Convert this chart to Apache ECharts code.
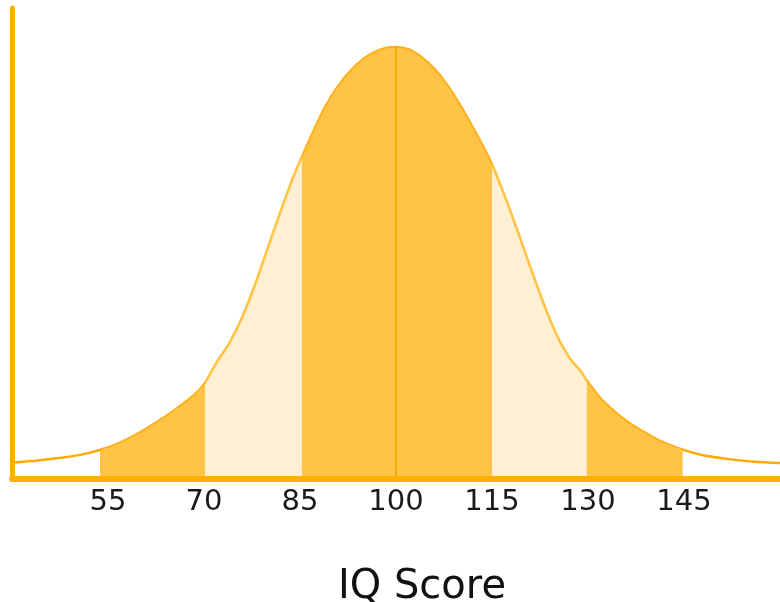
<!DOCTYPE html>
<html>
<head>
<meta charset="utf-8">
<script src="https://cdn.jsdelivr.net/npm/echarts@6/dist/echarts.min.js"></script>
<style>html,body{margin:0;padding:0;background:#fff;overflow:hidden}#c{width:780px;height:602px}</style>
</head>
<body>
<div id="c"></div>
<script>
// IQ score (x) and relative frequency in % of peak (y)
const iqScores = [40,44,48,51,53.75,57,60,63,66,68.5,70.2,72,74,76,78,80,82,84,85.3,87,89,91,93,95,97,98.6,100,102,104,106,108,110,112,114,115,117,119,121,123,125,127,129,129.8,132,134,136,138,141,144.8,148,152,156,160];
const frequency = [3.8,4.3,5.0,5.7,6.7,8.5,10.8,13.5,16.6,19.5,22.3,27.0,31.5,37.5,45.0,53.5,62.0,70.0,74.5,80.2,86.3,91.0,94.6,97.3,99.0,99.8,100,99.4,97.6,94.9,91.2,86.6,81.4,75.9,72.8,65.4,57.3,48.9,40.8,33.6,28.2,24.6,22.8,18.6,15.8,13.4,11.5,9.0,6.8,5.5,4.6,4.0,3.7];
// shaded band edges and their shade
const bandEdges = [53.75, 70.2, 85.3, 115, 129.8, 144.8];
const bandShades = ['dark', 'light', 'dark', 'light', 'dark'];
const tickLabels = [55, 70, 85, 100, 115, 130, 145];
const meanScore = 100;

const points = iqScores.map((x, i) => [x, frequency[i]]);
const shadeStyle = {
  dark: { area: '#FFC445', line: '#FFB324', width: 1.5 },
  light: { area: '#FFF0D3', line: '#FFC649', width: 2.5 }
};

const series = [{
  type: 'line',
  data: points,
  smooth: 0.25,
  symbol: 'none',
  lineStyle: { color: '#FFAA00', width: 2.5 },
  z: 1,
  silent: true
}];

bandShades.forEach((shade, b) => {
  const lo = bandEdges[b], hi = bandEdges[b + 1];
  const s = shadeStyle[shade];
  const item = {
    type: 'line',
    data: points.filter(p => p[0] >= lo && p[0] <= hi),
    smooth: 0.25,
    symbol: 'none',
    lineStyle: { color: s.line, width: s.width },
    areaStyle: { color: s.area, opacity: 1 },
    z: 2,
    silent: true
  };
  if (lo < meanScore && hi > meanScore) {
    item.markLine = {
      silent: true,
      symbol: 'none',
      label: { show: false },
      lineStyle: { color: '#FFAA00', width: 2, type: 'solid' },
      data: [[{ coord: [meanScore, 0] }, { coord: [meanScore, 100] }]]
    };
  }
  series.push(item);
});

const chart = echarts.init(document.getElementById('c'), null, { renderer: 'canvas' });
chart.setOption({
  animation: false,
  backgroundColor: '#ffffff',
  grid: { left: 12, right: 0, top: 8, bottom: 123, containLabel: false, outerBoundsMode: 'none' },
  xAxis: {
    type: 'value',
    min: 40,
    max: 160,
    interval: 5,
    z: 10,
    name: 'IQ Score',
    nameLocation: 'middle',
    nameGap: 89,
    nameTextStyle: { fontSize: 40, color: '#111', fontFamily: 'DejaVu Sans', padding: [0, 0, 0, 52] },
    axisLine: { show: true, lineStyle: { color: '#FFB000', width: 6 } },
    axisTick: { show: false },
    splitLine: { show: false },
    axisLabel: {
      margin: 9,
      fontSize: 29,
      color: '#1a1a1a',
      fontFamily: 'DejaVu Sans',
      formatter: v => tickLabels.includes(v) ? String(v) : ''
    }
  },
  yAxis: {
    type: 'value',
    min: 0,
    max: 109,
    z: 10,
    axisLine: { show: true, lineStyle: { color: '#FFB000', width: 5 } },
    axisTick: { show: false },
    axisLabel: { show: false },
    splitLine: { show: false }
  },
  series: series
});
</script>
</body>
</html>
